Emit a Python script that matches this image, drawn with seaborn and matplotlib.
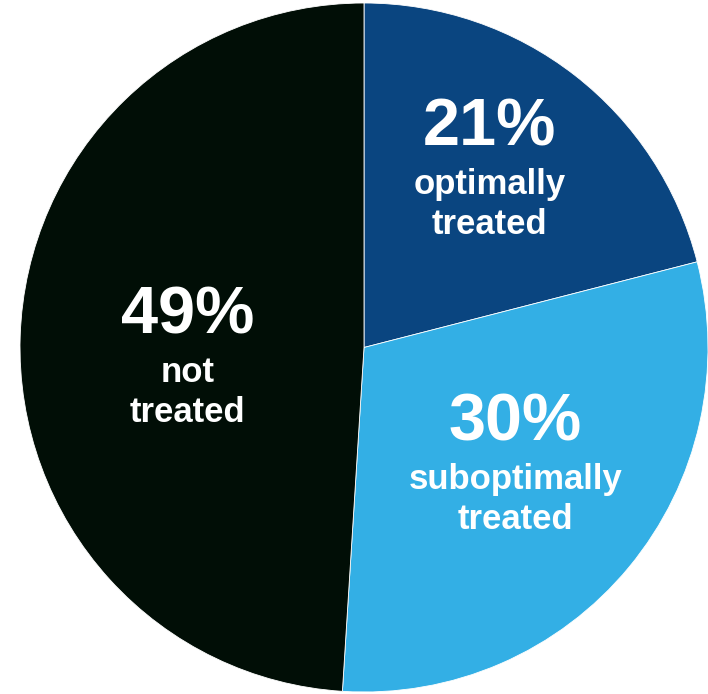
import matplotlib
matplotlib.use("Agg")
import matplotlib.pyplot as plt
import seaborn as sns

sns.set_theme(style="white")
plt.rcParams["font.family"] = ["Liberation Sans", "DejaVu Sans"]

# Share of patients by treatment status
categories = ["optimally\ntreated", "suboptimally\ntreated", "not\ntreated"]
shares = [21, 30, 49]
colors = ["#0a4580", "#33afe5", "#010e06"]

# Baseline of each percentage label, in pie data units
label_x = [0.366, 0.44, -0.513]
label_y = [0.587, -0.269, 0.042]

fig = plt.figure(figsize=(7.08, 6.94), dpi=100)
ax = fig.add_axes([20 / 708, 2 / 694, 688 / 708, 689 / 694])

ax.pie(shares, colors=colors, startangle=90, counterclock=False, radius=1,
       wedgeprops=dict(edgecolor="white", linewidth=0.6))
ax.set_xlim(-1, 1)
ax.set_ylim(-1, 1)
ax.set_aspect("auto")
ax.axis("off")

first_gap = 0.1424   # percentage baseline to first caption line
line_gap = 0.1163    # between caption lines

for share, cat, x, y in zip(shares, categories, label_x, label_y):
    ax.text(x, y, f"{share}%", color="white", fontsize=48, fontweight="bold",
            ha="center", va="baseline")
    for i, line in enumerate(cat.split("\n")):
        ax.text(x, y - first_gap - i * line_gap, line, color="white",
                fontsize=25, fontweight="bold", ha="center", va="baseline")

fig.savefig("out.png", dpi=100, facecolor="white")
